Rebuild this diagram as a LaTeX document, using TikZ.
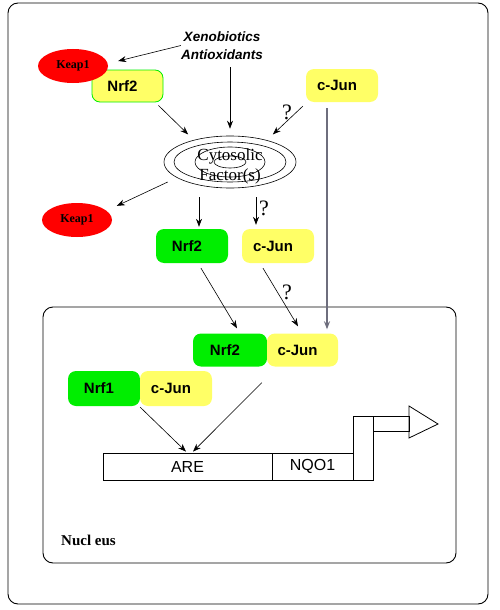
\documentclass[tikz,border=0pt]{standalone}
\usepackage{fontspec}
\setmainfont{Liberation Serif}
\setsansfont{Liberation Sans}
\usetikzlibrary{shapes.geometric,arrows.meta}

\definecolor{keapred}{RGB}{255,0,0}
\definecolor{nrfgreen}{RGB}{0,238,0}
\definecolor{junyellow}{RGB}{255,255,102}
\definecolor{linegrey}{RGB}{110,110,125}

\tikzset{
	protein/.style={shape=rectangle, rounded corners=8pt, minimum width=72pt, minimum height=34pt, inner sep=0pt, font=\sffamily\bfseries\fontsize{15}{15}\selectfont, execute at end node={\hspace{10pt}}},
	nrf/.style={protein, fill=nrfgreen},
	jun/.style={protein, fill=junyellow},
	keap/.style={shape=ellipse, fill=keapred, minimum width=70pt, minimum height=34pt, inner sep=0pt, font=\rmfamily\bfseries\fontsize{12}{12}\selectfont},
	gene/.style={shape=rectangle, draw=black, line width=0.8pt, minimum height=27pt, inner sep=0pt, font=\sffamily\fontsize{16}{16}\selectfont},
	arr/.style={-{Stealth[length=8pt,width=6pt]}, line width=0.6pt},
	query/.style={inner sep=0pt, font=\rmfamily\fontsize{22}{22}\selectfont}
}

\begin{document}
\begin{tikzpicture}[x=1pt, y=-1pt]
	
	\useasboundingbox[fill=white] (0,0) rectangle (500,610);
	
	\draw[rounded corners=10pt, line width=0.9pt] (8,3) rectangle (488,604);
	\draw[rounded corners=10pt, line width=0.9pt] (43,307) rectangle (456,563);
	
	\node[align=center, inner sep=0pt, font=\sffamily\bfseries\itshape\fontsize{13.5}{17.5}\selectfont] (xeno) at (222,45.5) {Xenobiotics\\Antioxidants};
	\node[protein, fill=junyellow, draw=nrfgreen, line width=0.8pt, minimum width=71pt, minimum height=32pt] (nrfA) at (127.5,86) {Nrf2};
	\node[keap] (keapA) at (73,66) {Keap1};
	\node[jun, minimum height=33pt] (junA) at (342,85.5) {c-Jun};
	
	\node[shape=ellipse, draw=black, line width=0.6pt, inner sep=0pt, minimum width=132pt, minimum height=52pt] (cyto) at (230,162) {};
	\draw[line width=0.6pt] (cyto.center) ellipse [x radius=56pt, y radius=20pt];
	\draw[line width=0.6pt] (cyto.center) ellipse [x radius=35pt, y radius=15pt];
	\draw[line width=0.6pt] (cyto.center) ellipse [x radius=16pt, y radius=6pt];
	\node[align=center, inner sep=0pt, font=\rmfamily\fontsize{17}{20}\selectfont] (cytotext) at (230,166) {Cytosolic\\Factor(s)};
	
	\node[keap] (keapB) at (77,220) {Keap1};
	\node[nrf] (nrfB) at (192,246) {Nrf2};
	\node[jun] (junB) at (278,246) {c-Jun};
	
	\node[nrf, minimum width=74pt, minimum height=33pt] (nrfC) at (230,350) {Nrf2};
	\node[jun, minimum width=71pt, minimum height=33pt] (junC) at (302.5,350) {c-Jun};
	\node[nrf, minimum height=35pt] (nrfD) at (104,388.5) {Nrf1};
	\node[jun, minimum height=35pt] (junD) at (176,388.5) {c-Jun};
	
	\node[gene, minimum width=169pt] (are) at (187.5,466.5) {ARE};
	\node[gene, minimum width=81pt] (nqo) at (312.5,466.5) {NQO1};
	\draw[line width=0.8pt] (nqo.south east) rectangle ++(20,-64);
	\draw[line width=0.8pt] (373,416) rectangle (409,431);
	\draw[line width=0.8pt] (409,406) -- (438,424) -- (409,438) -- cycle;
	
	\node[anchor=west, inner sep=0pt, font=\rmfamily\bfseries\fontsize{15}{15}\selectfont] (nuclabel) at (61,540) {Nucl eus};
	
	\node[query] (q1) at (287,112) {?};
	\node[query] (q2) at (264,208) {?};
	\node[query] (q3) at (287,292) {?};
	
	\path[arr] (xeno.west) edge ([xshift=10pt,yshift=5pt]keapA.east);
	\path[arr] ([xshift=8pt,yshift=-8pt]xeno.south) edge ([yshift=7pt]cyto.north);
	\path[arr] ([xshift=-5pt,yshift=-3pt]nrfA.south east) edge ([xshift=5pt,yshift=9pt]cyto.north west);
	\path[arr] ([xshift=-3pt,yshift=-4pt]junA.south west) edge ([xshift=-4pt,yshift=9pt]cyto.north east);
	\path[arr, color=linegrey, line width=1.4pt] ([xshift=-15pt,yshift=-6pt]junA.south) edge ([xshift=24.5pt,yshift=4pt]junC.north);
	
	\path[arr] ([xshift=4pt,yshift=-20pt]cyto.west) edge ([xshift=15pt,yshift=2pt]keapB.north east);
	\path[arr] ([xshift=-31pt,yshift=-9pt]cyto.south) edge ([xshift=7pt,yshift=2pt]nrfB.north);
	\path[arr] ([xshift=26pt,yshift=-9pt]cyto.south) edge ([xshift=-22pt,yshift=4pt]junB.north);
	
	\path[arr] ([xshift=9pt,yshift=-5pt]nrfB.south) edge ([xshift=7pt,yshift=5pt]nrfC.north);
	\path[arr] ([xshift=-15pt,yshift=-5pt]junB.south) edge ([xshift=-4.5pt,yshift=7pt]junC.north);
	
	\path[arr] ([yshift=-1pt]nrfD.south east) edge ([xshift=-1.5pt,yshift=1pt]are.north);
	\path[arr] ([xshift=-5pt,yshift=-16pt]junC.south west) edge ([xshift=5.5pt,yshift=1pt]are.north);
	
\end{tikzpicture}
\end{document}
